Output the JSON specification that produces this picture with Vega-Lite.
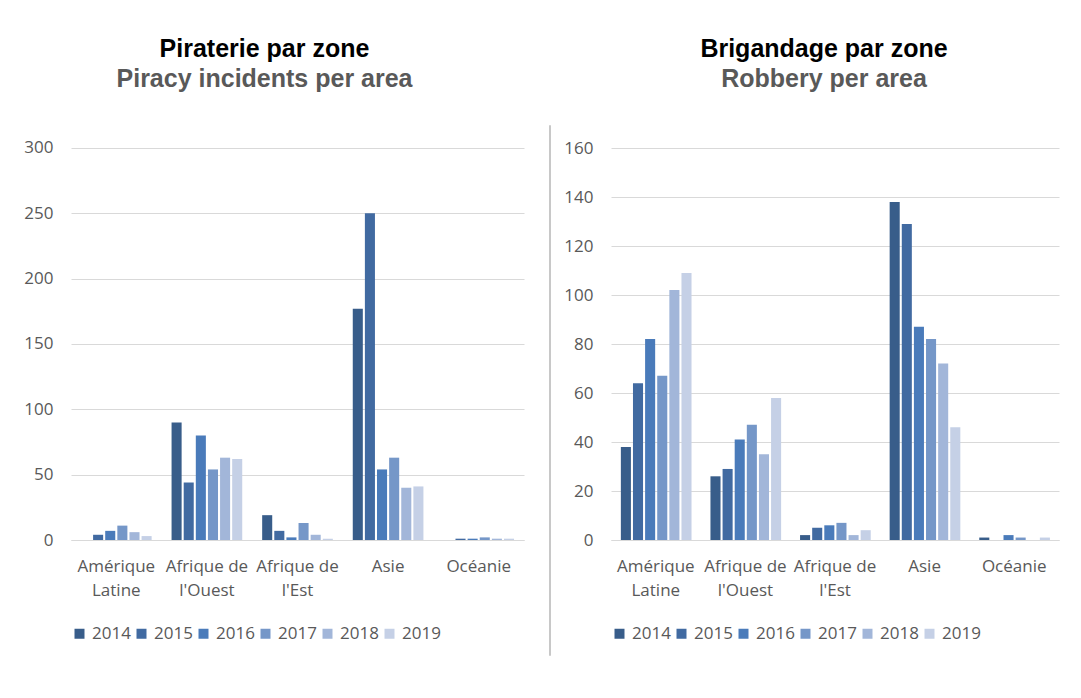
{
  "$schema": "https://vega.github.io/schema/vega-lite/v6.json",
  "background": "white",
  "padding": {"left": 23, "top": 37, "right": 5, "bottom": 5},
  "datasets": {
    "piracy": [
      {"zone": "Amérique Latine", "year": "2014", "n": 0},
      {"zone": "Amérique Latine", "year": "2015", "n": 4},
      {"zone": "Amérique Latine", "year": "2016", "n": 7},
      {"zone": "Amérique Latine", "year": "2017", "n": 11},
      {"zone": "Amérique Latine", "year": "2018", "n": 6},
      {"zone": "Amérique Latine", "year": "2019", "n": 3},
      {"zone": "Afrique de l'Ouest", "year": "2014", "n": 90},
      {"zone": "Afrique de l'Ouest", "year": "2015", "n": 44},
      {"zone": "Afrique de l'Ouest", "year": "2016", "n": 80},
      {"zone": "Afrique de l'Ouest", "year": "2017", "n": 54},
      {"zone": "Afrique de l'Ouest", "year": "2018", "n": 63},
      {"zone": "Afrique de l'Ouest", "year": "2019", "n": 62},
      {"zone": "Afrique de l'Est", "year": "2014", "n": 19},
      {"zone": "Afrique de l'Est", "year": "2015", "n": 7},
      {"zone": "Afrique de l'Est", "year": "2016", "n": 2},
      {"zone": "Afrique de l'Est", "year": "2017", "n": 13},
      {"zone": "Afrique de l'Est", "year": "2018", "n": 4},
      {"zone": "Afrique de l'Est", "year": "2019", "n": 1},
      {"zone": "Asie", "year": "2014", "n": 177},
      {"zone": "Asie", "year": "2015", "n": 250},
      {"zone": "Asie", "year": "2016", "n": 54},
      {"zone": "Asie", "year": "2017", "n": 63},
      {"zone": "Asie", "year": "2018", "n": 40},
      {"zone": "Asie", "year": "2019", "n": 41},
      {"zone": "Océanie", "year": "2014", "n": 0},
      {"zone": "Océanie", "year": "2015", "n": 1},
      {"zone": "Océanie", "year": "2016", "n": 1},
      {"zone": "Océanie", "year": "2017", "n": 2},
      {"zone": "Océanie", "year": "2018", "n": 1},
      {"zone": "Océanie", "year": "2019", "n": 1}
    ],
    "robbery": [
      {"zone": "Amérique Latine", "year": "2014", "n": 38},
      {"zone": "Amérique Latine", "year": "2015", "n": 64},
      {"zone": "Amérique Latine", "year": "2016", "n": 82},
      {"zone": "Amérique Latine", "year": "2017", "n": 67},
      {"zone": "Amérique Latine", "year": "2018", "n": 102},
      {"zone": "Amérique Latine", "year": "2019", "n": 109},
      {"zone": "Afrique de l'Ouest", "year": "2014", "n": 26},
      {"zone": "Afrique de l'Ouest", "year": "2015", "n": 29},
      {"zone": "Afrique de l'Ouest", "year": "2016", "n": 41},
      {"zone": "Afrique de l'Ouest", "year": "2017", "n": 47},
      {"zone": "Afrique de l'Ouest", "year": "2018", "n": 35},
      {"zone": "Afrique de l'Ouest", "year": "2019", "n": 58},
      {"zone": "Afrique de l'Est", "year": "2014", "n": 2},
      {"zone": "Afrique de l'Est", "year": "2015", "n": 5},
      {"zone": "Afrique de l'Est", "year": "2016", "n": 6},
      {"zone": "Afrique de l'Est", "year": "2017", "n": 7},
      {"zone": "Afrique de l'Est", "year": "2018", "n": 2},
      {"zone": "Afrique de l'Est", "year": "2019", "n": 4},
      {"zone": "Asie", "year": "2014", "n": 138},
      {"zone": "Asie", "year": "2015", "n": 129},
      {"zone": "Asie", "year": "2016", "n": 87},
      {"zone": "Asie", "year": "2017", "n": 82},
      {"zone": "Asie", "year": "2018", "n": 72},
      {"zone": "Asie", "year": "2019", "n": 46},
      {"zone": "Océanie", "year": "2014", "n": 1},
      {"zone": "Océanie", "year": "2015", "n": 0},
      {"zone": "Océanie", "year": "2016", "n": 2},
      {"zone": "Océanie", "year": "2017", "n": 1},
      {"zone": "Océanie", "year": "2018", "n": 0},
      {"zone": "Océanie", "year": "2019", "n": 1}
    ]
  },
  "config": {
    "font": "Open Sans",
    "view": {"stroke": null},
    "axis": {
      "labelFont": "Open Sans",
      "labelFontSize": 17,
      "labelColor": "#595959",
      "ticks": false,
      "domain": false,
      "title": null
    },
    "legend": {
      "orient": "bottom",
      "direction": "horizontal",
      "title": null,
      "symbolType": "square",
      "symbolSize": 100,
      "symbolStrokeWidth": 0,
      "labelFont": "Open Sans",
      "labelFontSize": 17,
      "labelColor": "#595959",
      "labelOffset": 4,
      "columnPadding": 2,
      "padding": 0,
      "offset": 27
    },
    "title": {
      "font": "Liberation Sans",
      "fontSize": 25,
      "fontWeight": "bold",
      "color": "#000000",
      "subtitleFont": "Liberation Sans",
      "subtitleFontSize": 25,
      "subtitleFontWeight": "bold",
      "subtitleColor": "#595959",
      "subtitlePadding": 5,
      "anchor": "middle",
      "frame": "group"
    }
  },
  "spacing": 22,
  "hconcat": [
    {
      "width": 453,
      "height": 415,
      "data": {"name": "piracy"},
      "title": {"text": "Piraterie par zone", "subtitle": "Piracy incidents per area", "offset": 33, "dx": -33},
      "mark": {"type": "bar"},
      "encoding": {
        "x": {
          "field": "zone", "type": "nominal",
          "sort": ["Amérique Latine", "Afrique de l'Ouest", "Afrique de l'Est", "Asie", "Océanie"],
          "scale": {"paddingInner": 0.22, "paddingOuter": 0.11},
          "axis": {
            "labelAngle": 0, "labelPadding": 18, "labelLineHeight": 24, "labelOverlap": false, "labelLimit": 200,
            "domain": true, "domainColor": "#d9d9d9",
            "labelExpr": "datum.value == 'Amérique Latine' ? ['Amérique', 'Latine'] : datum.value == \"Afrique de l'Ouest\" ? ['Afrique de', \"l'Ouest\"] : datum.value == \"Afrique de l'Est\" ? ['Afrique de', \"l'Est\"] : datum.label"
          }
        },
        "xOffset": {"field": "year", "type": "nominal", "scale": {"paddingInner": 0.17}},
        "y": {
          "field": "n", "type": "quantitative",
          "scale": {"domain": [0, 317.6], "nice": false},
          "axis": {"values": [0, 50, 100, 150, 200, 250, 300], "grid": true, "gridColor": "#d9d9d9", "labelPadding": 18}
        },
        "color": {
          "field": "year", "type": "nominal",
          "scale": {"domain": ["2014", "2015", "2016", "2017", "2018", "2019"], "range": ["#385d8a", "#416aa1", "#4a7bba", "#7597c8", "#a2b6d9", "#c5d0e6"]},
          "legend": {}
        }
      }
    },
    {
      "spacing": 10,
      "resolve": {"scale": {"color": "independent"}},
      "hconcat": [
        {
          "width": 1,
          "height": 530,
          "data": {"values": [{}]},
          "view": {"stroke": "#c8c8c8", "strokeWidth": 1},
          "mark": {"type": "point", "opacity": 0}
        },
        {
          "width": 448,
          "height": 415,
          "data": {"name": "robbery"},
          "title": {"text": "Brigandage par zone", "subtitle": "Robbery per area", "offset": 33, "dx": -11},
          "mark": {"type": "bar"},
          "encoding": {
            "x": {
              "field": "zone", "type": "nominal",
              "sort": ["Amérique Latine", "Afrique de l'Ouest", "Afrique de l'Est", "Asie", "Océanie"],
              "scale": {"paddingInner": 0.22, "paddingOuter": 0.11},
              "axis": {
                "labelAngle": 0, "labelPadding": 18, "labelLineHeight": 24, "labelOverlap": false, "labelLimit": 200,
                "domain": true, "domainColor": "#d9d9d9",
                "labelExpr": "datum.value == 'Amérique Latine' ? ['Amérique', 'Latine'] : datum.value == \"Afrique de l'Ouest\" ? ['Afrique de', \"l'Ouest\"] : datum.value == \"Afrique de l'Est\" ? ['Afrique de', \"l'Est\"] : datum.label"
              }
            },
            "xOffset": {"field": "year", "type": "nominal", "scale": {"paddingInner": 0.17}},
            "y": {
              "field": "n", "type": "quantitative",
              "scale": {"domain": [0, 169.4], "nice": false},
              "axis": {"values": [0, 20, 40, 60, 80, 100, 120, 140, 160], "grid": true, "gridColor": "#d9d9d9", "labelPadding": 18}
            },
            "color": {
              "field": "year", "type": "nominal",
              "scale": {"domain": ["2014", "2015", "2016", "2017", "2018", "2019"], "range": ["#385d8a", "#416aa1", "#4a7bba", "#7597c8", "#a2b6d9", "#c5d0e6"]},
              "legend": {}
            }
          }
        }
      ]
    }
  ],
  "resolve": {"scale": {"color": "independent"}}
}
